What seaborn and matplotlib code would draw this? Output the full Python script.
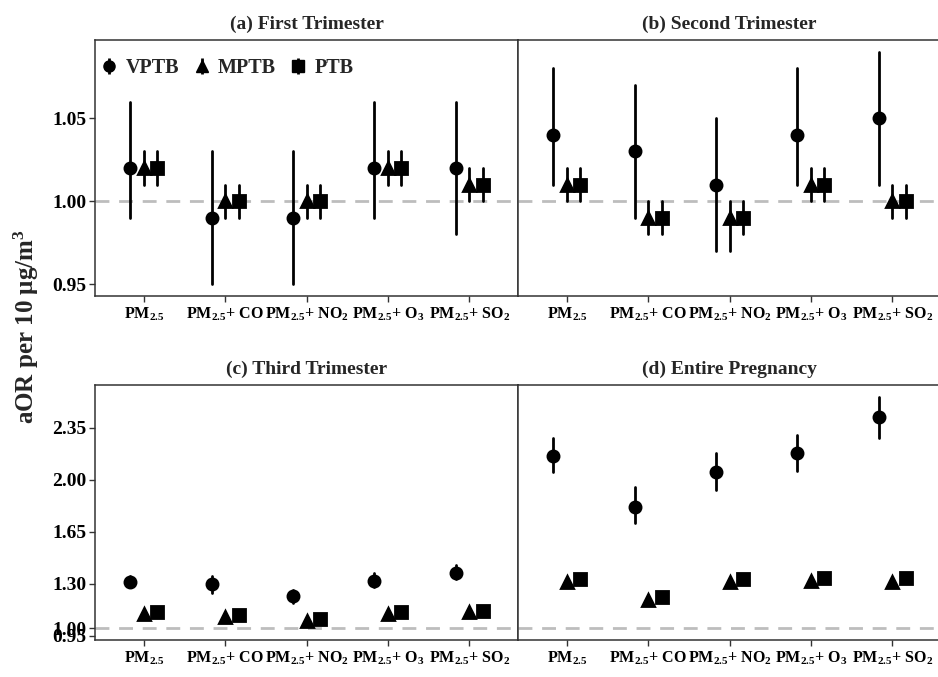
import numpy as np
import pandas as pd
import matplotlib
matplotlib.use('Agg')
import matplotlib.pyplot as plt
from matplotlib.lines import Line2D
from matplotlib.legend_handler import HandlerTuple
import seaborn as sns

# categorias
models = ['PM$_{2.5}$', 'PM$_{2.5}$+ CO', 'PM$_{2.5}$+ NO$_2$',
          'PM$_{2.5}$+ O$_3$', 'PM$_{2.5}$+ SO$_2$']
outcomes = ['VPTB', 'MPTB', 'PTB']
panels = ['(a) First Trimester', '(b) Second Trimester',
          '(c) Third Trimester', '(d) Entire Pregnancy']

# valores: VPTB x5, MPTB x5, PTB x5 (orden de models)
t1_est = [1.02, 0.99, 0.99, 1.02, 1.02,
          1.02, 1.00, 1.00, 1.02, 1.01,
          1.02, 1.00, 1.00, 1.02, 1.01]
t1_lo = [0.99, 0.95, 0.95, 0.99, 0.98,
         1.01, 0.99, 0.99, 1.01, 1.00,
         1.01, 0.99, 0.99, 1.01, 1.00]
t1_hi = [1.06, 1.03, 1.03, 1.06, 1.06,
         1.03, 1.01, 1.01, 1.03, 1.02,
         1.03, 1.01, 1.01, 1.03, 1.02]

t2_est = [1.04, 1.03, 1.01, 1.04, 1.05,
          1.01, 0.99, 0.99, 1.01, 1.00,
          1.01, 0.99, 0.99, 1.01, 1.00]
t2_lo = [1.01, 0.99, 0.97, 1.01, 1.01,
         1.00, 0.98, 0.97, 1.00, 0.99,
         1.00, 0.98, 0.98, 1.00, 0.99]
t2_hi = [1.08, 1.07, 1.05, 1.08, 1.09,
         1.02, 1.00, 1.00, 1.02, 1.01,
         1.02, 1.00, 1.00, 1.02, 1.01]

t3_est = [1.31, 1.30, 1.22, 1.32, 1.37,
          1.10, 1.08, 1.05, 1.10, 1.11,
          1.11, 1.09, 1.06, 1.11, 1.12]
t3_lo = [1.28, 1.24, 1.17, 1.28, 1.33,
         1.09, 1.07, 1.04, 1.09, 1.10,
         1.10, 1.08, 1.05, 1.10, 1.11]
t3_hi = [1.35, 1.35, 1.26, 1.37, 1.43,
         1.11, 1.09, 1.06, 1.11, 1.12,
         1.12, 1.10, 1.07, 1.12, 1.13]

tp_est = [2.16, 1.82, 2.05, 2.18, 2.42,
          1.31, 1.19, 1.31, 1.32, 1.31,
          1.33, 1.21, 1.33, 1.34, 1.34]
tp_lo = [2.05, 1.71, 1.93, 2.06, 2.28,
         1.29, 1.17, 1.29, 1.30, 1.29,
         1.31, 1.19, 1.31, 1.32, 1.32]
tp_hi = [2.28, 1.95, 2.18, 2.30, 2.56,
         1.33, 1.21, 1.33, 1.34, 1.33,
         1.35, 1.23, 1.35, 1.36, 1.36]

top_ticks = [0.95, 1.00, 1.05]
bottom_ticks = [0.95, 1.00, 1.30, 1.65, 2.00, 2.35]

# tabla larga: lo / est / hi por fila -> mediana y rango (pi 100)
series = [(t1_est, t1_lo, t1_hi), (t2_est, t2_lo, t2_hi),
          (t3_est, t3_lo, t3_hi), (tp_est, tp_lo, tp_hi)]
rows = []
for panel, (est, lo, hi) in zip(panels, series):
    for k, (e, l, h) in enumerate(zip(est, lo, hi)):
        out = outcomes[k // 5]
        mod = models[k % 5]
        for v in (l, e, h):
            rows.append({'panel': panel, 'outcome': out, 'model': mod, 'aor': v})
df = pd.DataFrame(rows)

sns.set_theme(style='white')
plt.rcParams['font.family'] = ['Liberation Serif', 'DejaVu Serif']
plt.rcParams['font.weight'] = 'bold'
plt.rcParams['mathtext.fontset'] = 'custom'
plt.rcParams['mathtext.rm'] = 'Liberation Serif:bold'
plt.rcParams['mathtext.it'] = 'Liberation Serif:bold'
plt.rcParams['mathtext.bf'] = 'Liberation Serif:bold'
plt.rcParams['mathtext.default'] = 'rm'

fig = plt.figure(figsize=(9.38, 6.77), dpi=100)
W, H = 938, 677
pw = 423
boxes = [(95, 40, 296), (518, 40, 296), (95, 385, 640), (518, 385, 640)]
border = '#333333'

axes = []
for i, (panel, (x0, y0, y1)) in enumerate(zip(panels, boxes)):
    ax = fig.add_axes([x0 / W, 1 - y1 / H, pw / W, (y1 - y0) / H])
    axes.append(ax)
    sub = df[df['panel'] == panel]
    sns.pointplot(data=sub, x='model', y='aor', hue='outcome',
                  order=models, hue_order=outcomes,
                  estimator='median', errorbar=('pi', 100),
                  dodge=0.333, markers=['o', '^', 's'], linestyles='none',
                  palette=['black'] * 3, markersize=8,
                  err_kws={'linewidth': 2.0}, legend=False, ax=ax, zorder=3)
    ax.axhline(1.0, color='#bdbdbd', lw=2, dashes=(5, 3.5), zorder=1)
    ax.set_xlim(-0.6, 4.6)

    row = df[df['panel'].isin(panels[(i // 2) * 2:(i // 2) * 2 + 2])]['aor']
    lo = min(row.min(), 1.0)
    hi = row.max()
    pad = 0.05 * (hi - lo)
    ax.set_ylim(lo - pad, hi + pad)
    ticks = top_ticks if i < 2 else bottom_ticks
    ax.set_yticks(ticks)
    ax.set_yticklabels(['%.2f' % t for t in ticks])

    ax.set_xlabel('')
    ax.set_ylabel('')
    ax.set_title(panel, fontsize=14, fontweight='bold', pad=8)
    for s in ax.spines.values():
        s.set_color(border)
        s.set_linewidth(1.1)
    ax.tick_params(axis='both', which='major', direction='out', length=4,
                   width=1, color=border, labelcolor='black',
                   bottom=True, left=(i % 2 == 0), pad=3)
    ax.tick_params(axis='x', labelsize=11.5)
    ax.tick_params(axis='y', labelsize=14, pad=2)
    if i % 2 == 1:
        ax.set_yticklabels([])
    for lab in ax.get_xticklabels() + ax.get_yticklabels():
        lab.set_fontweight('bold')

# leyenda dentro del panel (a)
handles = []
for m in ['o', '^', 's']:
    bar = Line2D([], [], marker='|', markersize=11, markeredgewidth=2,
                 color='black', linestyle='none')
    pt = Line2D([], [], marker=m, markersize=8, color='black', linestyle='none')
    handles.append((bar, pt))
axes[0].legend(handles, outcomes, handler_map={tuple: HandlerTuple(ndivide=1)},
               loc='upper left', ncol=3, frameon=False,
               prop={'weight': 'bold', 'size': 14.5}, handlelength=0.8,
               handletextpad=0.42, columnspacing=0.7,
               bbox_to_anchor=(-0.028, 1.0))

fig.text(26 / W, 1 - 327 / H, 'aOR per 10 μg/m$^3$', rotation=90,
         ha='center', va='center', fontsize=18, fontweight='bold')

fig.savefig('out.png', dpi=100)
